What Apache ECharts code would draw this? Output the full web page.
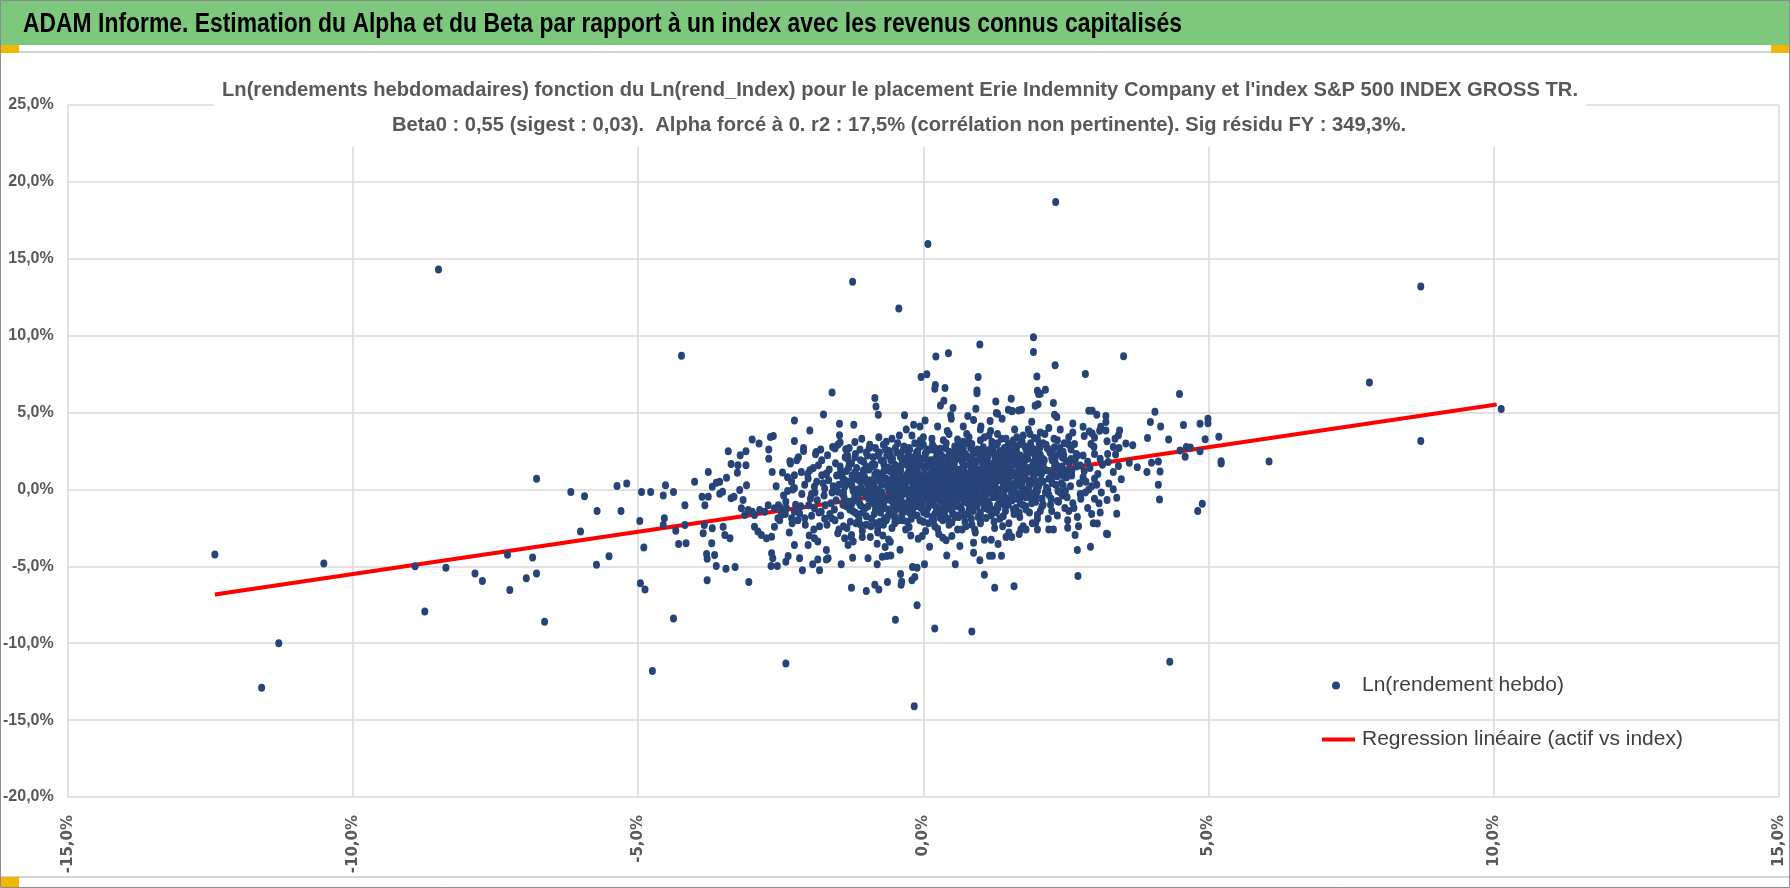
<!DOCTYPE html>
<html>
<head>
<meta charset="utf-8">
<title>ADAM Informe - Alpha et Beta</title>
<script src="https://cdn.jsdelivr.net/npm/echarts@6/dist/echarts.min.js"></script>
<style>
  html, body { margin: 0; padding: 0; background: #fff; }
  #chart { width: 1790px; height: 888px; }
</style>
</head>
<body>
<div id="chart"></div>
<script>
// Titres
const headerText = 'ADAM Informe. Estimation du Alpha et du Beta par rapport à un index avec les revenus connus capitalisés'
const chartTitle = [
  "Ln(rendements hebdomadaires) fonction du Ln(rend_Index) pour le placement Erie Indemnity Company et l'index S&P 500 INDEX GROSS TR.",
  'Beta0 : 0,55 (sigest : 0,03).  Alpha forcé à 0. r2 : 17,5% (corrélation non pertinente). Sig résidu FY : 349,3%.'
]
const scatterName = 'Ln(rendement hebdo)'
const lineName = 'Regression linéaire (actif vs index)'

// Axes (en %)
const xRange = [-15, 15]
const yRange = [-20, 25]
const tickStep = 5

// Droite de régression (extrémités)
const regressionLine = [[-12.42, -6.83], [10.05, 5.53]]

// Points isolés
const outlierPoints = [
  [-12.42, -4.23], [-11.6, -12.9], [-11.3, -10.0], [-10.51, -4.82], [-8.91, -4.99], [-8.74, -7.94],
  [-8.5, 14.3], [-8.37, -5.1], [-7.86, -5.46], [-7.73, -5.96], [-7.29, -4.25], [-7.25, -6.54],
  [-6.96, -5.77], [-6.85, -4.43], [-6.78, -5.46], [-6.78, 0.69], [-6.64, -8.61], [-6.18, -0.17],
  [-6.01, -2.74], [-5.94, -0.45], [-5.73, -4.9], [-5.72, -1.4], [-5.51, -4.34], [-5.37, 0.22],
  [-5.3, -1.4], [-4.75, -11.8], [-4.38, -8.39], [-4.24, 8.69], [-2.41, -11.32], [-1.24, 13.5],
  [-0.43, 11.77], [-0.16, -14.1], [0.08, 15.96], [0.99, 9.42], [2.32, 18.7], [4.32, -11.2],
  [6.06, 1.81], [7.82, 6.95], [8.72, 13.2], [8.72, 3.15], [10.13, 5.23], [-4.96, -6.1], [-4.88, -6.5]
]

// Aile gauche (-5,3% à -1,1%)
const leftWing = [
  [-5.2, 0.39], [-4.94, -0.17], [-4.78, -0.17], [-4.56, -0.39], [-4.52, 0.28], [-4.38, -0.17],
  [-4.97, -2.05], [-4.9, -3.78], [-4.54, -1.88], [-4.56, -2.31], [-4.34, -2.68], [-4.29, -3.54],
  [-4.16, -3.5], [-4.18, -1.02], [-4.18, -2.31], [-4.01, 0.5], [-3.88, -0.48], [-3.77, -0.48],
  [-3.83, -1.02], [-3.77, 1.14], [-3.84, -2.31], [-3.86, -2.85], [-3.7, -2.53], [-3.8, -4.19],
  [-3.66, -4.26], [-3.71, -3.5], [-3.7, 0.17], [-3.63, 0.43], [-3.57, 0.5], [-3.45, 0.76],
  [-3.42, 2.48], [-3.52, -0.15], [-3.57, -0.28], [-3.51, -2.42], [-3.48, -2.96], [-3.39, -3.18],
  [-3.37, 1.66], [-3.37, -0.58], [-3.32, -0.48], [-3.26, 1.08], [-3.25, 1.58], [-3.21, 2.22],
  [-3.11, 2.48], [-3.11, 1.58], [-3.1, 0.28], [-3.0, 3.24], [-2.88, 2.98], [-2.71, 2.59],
  [-2.71, 2.0], [-2.65, 1.14], [-2.63, 3.48], [-3.22, -0.04], [-3.16, -0.69], [-3.19, -1.23],
  [-3.13, -1.66], [-3.07, -1.34], [-3.0, -1.45], [-2.96, -1.66], [-2.87, -1.34], [-2.78, -1.45],
  [-2.72, -1.02], [-2.61, -1.23], [-2.54, -1.02], [-2.49, -1.66], [-2.4, -1.23], [-2.31, -1.88],
  [-2.26, -1.45], [-2.17, -1.56], [-2.08, -1.88], [-2.01, -1.02], [-1.96, -1.71], [-1.91, -1.23],
  [-1.79, -1.45], [-1.72, -1.02], [-1.61, -1.88], [-2.68, 3.41], [-2.26, 4.49], [-2.26, 3.15],
  [-2.1, 2.7], [-1.99, 3.84], [-1.88, 2.44], [-1.89, 2.29], [-1.68, 2.22], [-1.47, 4.28],
  [-1.22, 4.21], [-1.47, 3.52], [-1.46, 3.05], [-1.59, 2.76], [-1.55, 2.66], [-1.36, 2.61],
  [-1.33, 2.22], [-1.2, 3.09], [-1.99, 1.25], [-2.33, 1.68], [-2.34, 1.83], [-2.26, 0.93],
  [-2.31, 0.5], [-2.14, 1.14], [-2.02, 0.71], [-1.78, 0.93], [-1.7, 1.04], [-1.84, 1.58],
  [-1.91, 0.17], [-1.73, 0.06], [-1.5, -0.15], [-1.38, 0.17], [-1.41, 0.71], [-1.26, 0.28],
  [-2.96, -2.42], [-2.9, -2.74], [-2.84, -2.96], [-2.75, -3.18], [-2.66, -3.07], [-2.61, -2.42],
  [-2.55, -1.88], [-2.66, -4.15], [-2.37, -4.32], [-2.26, -3.61], [-2.17, -4.47], [-2.02, -3.61],
  [-1.91, -3.18], [-1.85, -3.39], [-1.7, -3.93], [-1.67, -4.47], [-1.5, -2.85], [-1.38, -3.18],
  [-1.32, -3.61], [-1.26, -2.96], [-1.23, -3.39], [-1.6, 6.3], [-1.75, 4.88],
  [-3.06, -6.02], [-3.79, -5.91], [-3.63, -4.98], [-3.46, -5.15], [-3.3, -5.04], [-3.79, -4.5],
  [-2.64, -4.48], [-2.67, -4.98], [-2.56, -4.98], [-2.41, -4.7], [-2.12, -5.26], [-1.94, -4.87],
  [-1.82, -5.26], [-1.85, -4.55], [-1.7, -4.55], [-1.44, -4.87], [-1.26, -6.39], [-1.24, -4.44],
  [-2.45, -0.4], [-2.38, 0.8], [-2.3, -2.2], [-2.22, 1.9], [-2.15, -1.1], [-2.08, 0.3],
  [-2.0, -3.0], [-1.93, 1.4], [-1.86, -0.7], [-1.8, 2.6], [-1.73, -1.9], [-1.66, 0.6],
  [-1.6, -0.2], [-1.54, 1.7], [-1.48, -2.6], [-1.44, 0.9], [-2.42, -1.6], [-2.26, 0.1],
  [-2.1, 2.5], [-1.96, -0.3], [-1.82, -2.4], [-1.7, 1.0], [-1.56, -1.3], [-1.5, 2.9]
]

// Bas du nuage (-1,1% à 3,3%)
const lowerCloud = [
  [-0.49, -8.48], [-0.11, -7.53], [0.2, -9.05], [0.85, -9.24], [2.71, -5.63], [2.7, -3.94],
  [2.93, -3.72], [3.21, -2.88], [3.05, -2.21], [2.66, -2.97], [2.53, -2.49], [2.2, -2.6],
  [1.71, -2.6], [1.97, -2.16], [1.45, -3.1], [1.55, -3.1], [1.25, -6.39], [1.59, -6.3],
  [1.07, -5.54], [1.37, -4.31], [1.21, -4.31], [1.16, -4.31], [0.99, -4.61], [1.31, -3.55],
  [1.19, -3.27], [1.07, -3.27], [0.88, -4.11], [0.88, -3.46], [0.56, -4.87], [0.41, -4.29],
  [0.64, -3.68], [0.5, -3.03], [0.34, -3.14], [0.02, -4.87], [0.11, -3.72], [-0.02, -3.03],
  [-0.19, -5.04], [-0.11, -5.09], [-0.15, -5.69], [-0.2, -5.91], [-0.38, -6.0], [-0.4, -5.5],
  [-0.39, -6.2], [-0.63, -6.02], [-0.78, -6.5], [-0.85, -6.2], [-1.0, -6.6], [-0.41, -3.92],
  [-0.64, -4.33], [-0.57, -4.29], [-0.72, -4.37], [-0.81, -4.87], [-0.97, -4.48], [-0.61, -3.25],
  [-0.67, -3.74], [-0.81, -3.53], [-0.93, -3.1], [-1.07, -3.1],
  [2.62, -0.9], [2.75, -0.3], [2.88, -1.2], [3.0, -0.6], [3.1, -1.5], [2.55, -1.4],
  [2.95, 0.2], [3.12, -0.2], [2.7, -1.8]
]

// Haut du nuage
const upperCloud = [
  [-0.85, 5.94], [-0.83, 5.4], [-0.79, 4.86], [-0.33, 4.82], [-0.04, 7.32], [0.06, 7.49],
  [0.22, 8.64], [0.44, 8.86], [0.21, 6.8], [0.2, 6.54], [0.38, 6.59], [0.94, 6.44],
  [0.94, 6.26], [0.96, 7.32], [1.93, 9.89], [1.93, 8.94], [2.31, 8.08], [1.99, 7.34],
  [2.0, 6.41], [2.02, 6.2], [2.14, 6.48], [0.3, 5.46], [0.36, 5.77], [0.52, 5.29],
  [0.48, 4.82], [0.92, 5.25], [1.27, 5.72], [1.3, 4.92], [1.54, 5.9], [1.56, 5.1],
  [1.67, 5.14], [1.72, 5.18], [1.96, 5.44], [2.28, 5.62], [2.3, 4.86], [2.34, 4.71],
  [-0.17, 4.21], [-0.06, 4.1], [0.03, 4.49], [0.25, 4.1], [0.49, 4.6], [0.78, 4.77],
  [0.88, 4.51], [1.01, 4.1], [1.17, 4.45], [1.28, 4.97], [1.38, 4.6], [1.49, 5.18],
  [1.55, 5.08], [2.01, 5.54], [2.05, 6.23],
  [2.84, 7.5], [2.8, 4.07], [2.82, 3.47], [2.91, 3.77], [2.96, 3.64], [3.0, 3.38],
  [2.94, 2.95], [2.99, 2.78], [3.0, 2.3], [2.62, 4.29], [2.62, 3.7], [2.65, 2.95],
  [2.68, 2.3], [2.59, 1.98], [2.51, 0.79], [2.44, 2.08], [3.04, 4.85], [2.96, 5.11],
  [2.9, 5.11], [3.11, 4.07], [3.09, 3.81]
]

// Aile droite (au-delà de 3,1%)
const rightWing = [
  [3.51, 8.66], [4.49, 6.2], [4.99, 4.6], [4.99, 4.3], [4.85, 4.28], [4.94, 3.26],
  [4.56, 4.19], [4.16, 4.1], [3.98, 4.38], [4.06, 5.05], [3.93, 3.35], [4.3, 3.24],
  [3.67, 2.87], [3.55, 2.98], [4.85, 2.48], [4.5, 2.53], [4.59, 2.12], [4.61, 2.76],
  [4.68, 2.72], [4.0, 1.73], [4.12, 1.81], [3.75, 1.45], [3.92, 1.14], [4.15, 1.17],
  [4.12, 0.3], [4.14, -0.65], [4.89, -0.93], [4.81, -1.4], [3.39, -1.58], [3.23, -2.92],
  [3.47, 0.67], [3.33, 1.14], [3.39, -0.54], [3.33, 0.02], [3.22, -0.69], [3.25, 0.39],
  [3.42, 1.53], [3.23, 2.31], [3.37, 2.27], [3.33, 2.76], [3.43, 2.7], [3.44, 3.84],
  [3.42, 3.52], [3.36, 3.3], [3.2, 3.84], [3.2, 4.77], [3.2, 4.38], [3.22, 3.13],
  [3.61, 1.73], [3.24, 1.79], [5.18, 3.43], [5.22, 1.68], [5.22, 1.84]
]

// Coeur du nuage (estimé, zone très dense)
const coreCloud = [
  [-1.42, -0.3], [-1.38, 0.6], [-1.35, -1.1], [-1.31, 1.4], [-1.28, -2.1], [-1.25, 0.2],
  [-1.22, -0.7], [-1.19, 2.3], [-1.16, -1.6], [-1.13, 0.9], [-1.1, -0.2], [-1.07, -2.7],
  [-1.05, 1.8], [-1.02, -1.2], [-0.99, 0.4], [-0.96, -0.6], [-0.94, 2.9], [-0.91, -1.9],
  [-1.4, -2.4], [-1.33, 2.0], [-1.27, -3.1], [-1.2, 1.1], [-1.12, -0.9], [-1.08, 3.3],
  [-1.0, -2.3], [-0.95, 1.3], [-1.36, -0.8], [-1.24, -1.4], [-1.15, 0.0], [-1.03, 0.8],
  [-0.89, 0.1], [-0.87, -0.9], [-0.85, 1.6], [-0.83, -2.2], [-0.81, 0.7], [-0.79, -0.4],
  [-0.77, 2.4], [-0.75, -1.5], [-0.73, 0.3], [-0.71, -3.0], [-0.69, 1.2], [-0.67, -0.7],
  [-0.65, 3.1], [-0.63, -1.8], [-0.61, 0.5], [-0.59, -0.1], [-0.57, 1.9], [-0.55, -2.5],
  [-0.53, 0.9], [-0.51, -1.1], [-0.49, 2.7], [-0.47, -0.3], [-0.45, 1.5], [-0.43, -2.0],
  [-0.41, 0.2], [-0.88, 2.1], [-0.84, -1.3], [-0.8, -2.8], [-0.76, 1.0], [-0.72, -0.2],
  [-0.68, -1.2], [-0.64, 2.2], [-0.6, -0.6], [-0.56, 0.0], [-0.52, -1.6], [-0.48, 1.1],
  [-0.44, -0.9], [-0.86, 0.4], [-0.78, 3.4], [-0.7, -2.3], [-0.62, 1.4], [-0.54, -0.4],
  [-0.46, 0.6], [-0.42, 3.5], [-0.58, -3.4],
  [-0.39, -0.5], [-0.37, 1.7], [-0.35, -1.4], [-0.33, 0.8], [-0.31, -2.6], [-0.29, 0.0],
  [-0.27, 2.3], [-0.25, -0.8], [-0.23, 1.2], [-0.21, -1.9], [-0.19, 0.4], [-0.17, -0.2],
  [-0.15, 3.0], [-0.13, -1.1], [-0.11, 0.9], [-0.09, -3.2], [-0.07, 1.6], [-0.05, -0.6],
  [-0.03, 0.2], [-0.01, 2.0], [0.01, -1.5], [0.03, 0.6], [0.05, -0.3], [0.07, 2.6],
  [0.09, -2.2], [-0.38, 0.3], [-0.34, 2.8], [-0.3, -1.0], [-0.26, 0.6], [-0.22, -3.0],
  [-0.18, 1.8], [-0.14, -0.4], [-0.1, 1.1], [-0.06, -2.0], [-0.02, -0.9], [0.02, 1.3],
  [0.06, 0.1], [0.08, -1.2], [-0.36, -2.0], [-0.28, 1.0], [-0.2, -0.6], [-0.12, 2.4],
  [-0.04, 0.7], [0.04, -2.7], [-0.32, -0.2], [-0.24, -1.5], [-0.16, 0.9], [-0.08, -0.1],
  [0.0, 3.4], [-0.4, 1.2], [0.1, 0.4],
  [0.11, -0.7], [0.13, 1.9], [0.15, -1.8], [0.17, 0.5], [0.19, -0.1], [0.21, 2.5],
  [0.23, -1.2], [0.25, 0.9], [0.27, -2.9], [0.29, 1.4], [0.31, -0.4], [0.33, 0.2],
  [0.35, 3.2], [0.37, -1.6], [0.39, 0.7], [0.41, -0.8], [0.43, 2.1], [0.45, -2.3],
  [0.47, 1.0], [0.49, 0.0], [0.51, 1.7], [0.53, -1.0], [0.55, 2.8], [0.57, -0.3],
  [0.59, 0.6], [0.12, 0.2], [0.16, 2.9], [0.2, -2.4], [0.24, -0.2], [0.28, 0.5],
  [0.32, -1.3], [0.36, 1.2], [0.4, -3.3], [0.44, 0.4], [0.48, -0.6], [0.52, 2.4],
  [0.56, -1.8], [0.14, 1.1], [0.22, -0.6], [0.3, 2.0], [0.38, -0.1], [0.46, 1.5],
  [0.54, 0.3], [0.18, -1.0], [0.26, 1.7], [0.34, -2.0], [0.42, 3.8], [0.5, -1.4],
  [0.58, 1.3], [0.6, -2.6],
  [0.61, 0.9], [0.63, -0.5], [0.65, 2.2], [0.67, -1.3], [0.69, 0.3], [0.71, 1.6],
  [0.73, -2.1], [0.75, 0.6], [0.77, -0.2], [0.79, 3.0], [0.81, -1.0], [0.83, 1.2],
  [0.85, -0.7], [0.87, 2.5], [0.89, 0.1], [0.91, -2.8], [0.93, 1.8], [0.95, -0.4],
  [0.97, 0.8], [0.99, -1.5], [1.01, 2.0], [1.03, 0.4], [1.05, -0.9], [1.07, 3.4],
  [1.09, 1.1], [0.62, -1.8], [0.66, 0.0], [0.7, 2.7], [0.74, 1.0], [0.78, -1.6],
  [0.82, 0.5], [0.86, -0.2], [0.9, 1.5], [0.94, -1.1], [0.98, 2.3], [1.02, -0.3],
  [1.06, 0.7], [0.64, 1.3], [0.72, -0.8], [0.8, 2.1], [0.88, -0.6], [0.96, 0.2],
  [1.04, 1.6], [0.68, -2.6], [0.76, 3.6], [0.84, -1.9], [0.92, 0.9], [1.0, -2.2],
  [1.08, -0.5],
  [1.11, 0.5], [1.13, -0.8], [1.15, 2.4], [1.17, 1.0], [1.19, -1.7], [1.21, 0.2],
  [1.23, 1.7], [1.25, -0.3], [1.27, 2.9], [1.29, 0.8], [1.31, -1.2], [1.33, 1.4],
  [1.35, 0.0], [1.37, 3.3], [1.39, -2.4], [1.41, 1.1], [1.43, -0.5], [1.45, 2.2],
  [1.47, 0.6], [1.49, -1.0], [1.51, 1.9], [1.53, -0.1], [1.55, 3.0], [1.57, 0.9],
  [1.59, -1.6], [1.12, 1.8], [1.16, -0.1], [1.2, 3.1], [1.24, -2.1], [1.28, 1.3],
  [1.32, -0.6], [1.36, 2.0], [1.4, 0.4], [1.44, -1.4], [1.48, 2.6], [1.52, 0.3],
  [1.56, -0.7], [1.14, -1.3], [1.22, 0.7], [1.3, 2.3], [1.38, -0.9], [1.46, 1.5],
  [1.54, 1.2], [1.18, 3.8], [1.26, 0.3], [1.34, -1.9], [1.42, 2.7], [1.5, -2.8],
  [1.58, 2.1],
  [1.61, 0.4], [1.63, 2.5], [1.65, -0.6], [1.67, 1.3], [1.69, -1.8], [1.71, 0.9],
  [1.73, 3.1], [1.75, 0.0], [1.77, 1.8], [1.79, -1.1], [1.81, 2.2], [1.83, 0.6],
  [1.85, -0.3], [1.87, 3.6], [1.89, 1.2], [1.91, -2.2], [1.93, 0.8], [1.95, 2.6],
  [1.97, -0.8], [1.99, 1.5], [2.01, 0.2], [2.03, 3.0], [2.05, -1.4], [2.07, 1.0],
  [2.09, 2.0], [1.62, -1.2], [1.66, 1.9], [1.7, 0.2], [1.74, -0.4], [1.78, 2.8],
  [1.82, 1.4], [1.86, -1.5], [1.9, 0.4], [1.94, 1.8], [1.98, 0.0], [2.02, 2.4],
  [2.06, 0.6], [1.64, 3.4], [1.72, 1.6], [1.8, -2.6], [1.88, 2.4], [1.96, -0.2],
  [2.04, 1.6], [1.68, -2.9], [1.76, 1.0], [1.84, 3.9], [2.0, -1.9], [2.08, -0.6],
  [2.11, 1.4], [2.14, -0.2], [2.17, 2.7], [2.2, 0.7], [2.23, -1.0], [2.26, 1.9],
  [2.29, 3.3], [2.32, 0.3], [2.35, -1.7], [2.38, 2.3], [2.41, 1.1], [2.44, -0.4],
  [2.47, 3.0], [2.5, 0.8], [2.53, -2.0], [2.56, 1.7], [2.59, 2.6], [2.13, 3.6],
  [2.19, -1.9], [2.25, 0.9], [2.31, 2.0], [2.37, -0.8], [2.43, 1.5], [2.49, -0.1],
  [2.55, 3.4], [2.16, 0.1], [2.28, -2.6], [2.4, 3.9], [2.52, 1.2], [2.22, 2.4],
  [2.34, 1.4], [2.46, 2.2], [2.58, 0.2],
  [2.66, 1.9], [2.74, 0.4], [2.82, 1.2], [2.9, 0.0], [2.98, -2.2], [3.06, 1.0],
  [3.14, 1.6], [2.72, -2.4], [2.8, 0.8], [2.88, 1.8], [3.04, 0.3], [2.84, -0.2],
  [-0.3, 3.9], [0.7, 4.1], [1.0, 3.9], [1.6, 3.9], [1.9, 4.4], [2.2, 4.0]
]

// Zone la plus dense (estimée)
const coreDense = [
  [-0.58, 0.6], [-0.52, 1.3], [-0.46, -0.8], [-0.4, 2.1], [-0.34, 0.1], [-0.28, -1.1],
  [-0.22, 1.5], [-0.16, 0.3], [-0.1, 2.2], [-0.04, -0.4], [0.02, 0.9], [0.08, 1.9],
  [0.14, -0.3], [0.2, 1.3], [0.26, 0.2], [0.32, 2.2], [0.38, -0.9], [0.44, 1.1],
  [0.5, 0.5], [0.56, 1.9], [0.62, -0.1], [0.68, 1.0], [0.74, 2.3], [0.8, 0.3],
  [0.86, 1.6], [0.92, -0.8], [0.98, 0.9], [1.04, 2.0], [1.1, 0.0], [1.16, 1.3],
  [1.22, 2.5], [1.28, -0.4], [1.34, 0.8], [1.4, 1.9], [1.46, 0.1], [1.52, 1.4],
  [1.58, 2.4], [1.64, 0.7], [1.7, -0.5], [1.76, 1.5],
  [-0.55, -0.2], [-0.43, 0.9], [-0.31, 1.9], [-0.19, -0.7], [-0.07, 0.5], [0.05, 1.5],
  [0.17, 0.8], [0.29, -0.6], [0.41, 0.3], [0.53, 1.2], [0.65, 2.0], [0.77, -0.6],
  [0.89, 0.6], [1.01, 1.3], [1.13, -0.2], [1.25, 1.0], [1.37, 1.6], [1.49, 0.5],
  [1.61, 1.8], [1.73, 0.3],
  [-0.49, 0.3], [-0.37, -0.3], [-0.25, 1.0], [-0.13, 1.7], [-0.01, 0.0], [0.11, 0.5],
  [0.23, 1.7], [0.35, 0.6], [0.47, 2.0], [0.59, 0.1], [0.71, 0.7], [0.83, 1.9],
  [0.95, 0.4], [1.07, 1.7], [1.19, 0.6], [1.31, 2.1], [1.43, 0.9], [1.55, -0.3],
  [1.67, 1.1], [1.79, 2.0]
]

// Compléments du coeur (estimés)
const coreExtra = [
  [-1.48, 0.3], [-1.45, -1.7], [-1.43, 1.0], [-1.39, -0.5], [-1.37, 2.1], [-1.34, -2.5],
  [-1.32, 0.5], [-1.29, -1.3], [-1.26, 1.7], [-1.23, -0.1], [-1.21, 0.7], [-1.18, -2.2],
  [-1.17, 1.4], [-1.14, -0.6], [-1.11, 2.6], [-1.09, 0.1], [-1.06, -1.5], [-1.04, 1.1],
  [-1.01, -0.4], [-0.98, 2.2], [-0.97, -1.1], [-0.93, 0.6], [-0.92, -2.4], [-0.9, 1.6],
  [-0.88, -0.3], [-0.86, -1.6], [-0.82, 1.1], [-0.8, 0.0], [-0.78, -1.0], [-0.74, 1.9],
  [-0.73, -0.6], [-0.7, 0.8], [-0.68, -1.9], [-0.66, 2.6], [-0.63, 0.2], [-0.61, -1.3],
  [-0.59, 1.2], [-0.57, -0.7], [-0.54, 2.0], [-0.52, 0.4], [-0.5, -1.9], [-1.46, 1.5],
  [-1.41, -1.0], [-1.3, 2.7], [-1.19, -0.4], [-1.13, -1.9], [-1.0, 1.5], [-0.95, -0.1],
  [-0.84, 2.7], [-0.76, -2.1], [-0.65, 0.7], [-0.53, -0.9], [-1.35, 1.2], [-1.25, -0.9],
  [-1.1, 0.5], [-0.92, 0.2], [-0.81, -0.6], [-0.69, 1.6], [-0.58, 2.3], [-0.5, -0.2],
  [-0.48, -1.3], [-0.46, 2.4], [-0.44, 0.1], [-0.42, -0.6], [-0.4, 1.4], [-0.38, -1.7],
  [-0.36, 0.7], [-0.35, 2.0], [-0.33, -0.9], [-0.31, 0.4], [-0.29, 1.6], [-0.28, -2.1],
  [-0.26, -0.4], [-0.24, 2.6], [-0.22, 0.0], [-0.21, 0.8], [-0.19, -1.4], [-0.17, 1.3],
  [-0.15, -0.8], [-0.14, 2.1], [-0.12, 0.3], [-0.11, -1.7], [-0.09, 1.0], [-0.07, -0.3],
  [-0.06, 1.9], [-0.04, -1.2], [-0.02, 0.5], [0.0, 1.5], [0.01, -0.6], [0.03, 2.3],
  [0.04, 0.0], [0.06, -1.6], [0.07, 0.9], [0.09, 1.6], [0.1, -0.9], [0.12, 2.6],
  [0.13, 0.3], [0.15, -0.5], [0.16, 1.5], [0.18, -2.0], [0.19, 0.8], [0.21, 2.0],
  [0.22, -0.2], [0.24, 1.1], [0.25, -1.5], [0.27, 0.5], [0.28, 2.4], [0.3, -0.8],
  [0.31, 1.2], [0.33, -0.1], [0.34, 1.8], [0.36, -1.1], [0.37, 0.4], [0.39, 2.7],
  [0.4, -0.4], [0.42, 1.0], [0.43, -1.9], [0.45, 0.6], [0.46, 2.2], [0.48, -0.2],
  [0.49, 1.3], [-0.45, 0.8], [-0.3, -1.4], [-0.18, 0.1], [-0.05, 2.8], [0.08, -0.4],
  [0.2, 0.3], [0.32, 1.5], [0.44, -1.2], [-0.25, 1.9],
  [0.5, 0.9], [0.52, -1.6], [0.54, 1.6], [0.55, 0.0], [0.57, 2.4], [0.58, -0.8],
  [0.6, 1.1], [0.62, 0.4], [0.63, 2.9], [0.65, -1.1], [0.66, 0.6], [0.68, 1.8],
  [0.69, -0.3], [0.71, 1.2], [0.72, -1.7], [0.74, 0.2], [0.75, 2.1], [0.77, 0.9],
  [0.78, -0.9], [0.8, 1.6], [0.81, 0.0], [0.83, 2.7], [0.84, -0.4], [0.86, 1.0],
  [0.87, -1.4], [0.89, 1.9], [0.9, 0.3], [0.92, 2.4], [0.93, -0.2], [0.95, 1.3],
  [0.96, -1.8], [0.98, 0.6], [0.99, 2.0], [1.01, -0.7], [1.02, 1.0], [1.04, 0.1],
  [1.05, 2.6], [1.07, -1.2], [1.08, 0.4], [1.1, 1.6], [1.11, -0.3], [1.13, 2.1],
  [1.14, 0.8], [1.16, -1.0], [1.17, 1.4], [1.19, 0.2], [1.2, 2.8], [1.22, -0.5],
  [1.23, 1.1], [1.25, 0.5], [1.26, 2.0], [1.28, -1.5], [1.29, 0.0], [1.31, 1.7],
  [1.32, 0.6], [1.34, 2.5], [1.35, -0.8], [1.37, 0.9], [1.38, 1.4], [1.4, -0.2],
  [1.41, 2.2], [1.43, 0.3], [1.44, -1.1], [1.46, 1.8], [1.47, 0.9], [1.49, 2.9],
  [0.7, 3.1], [1.0, 3.2], [1.3, 3.0], [0.85, -2.3],
  [1.5, 0.6], [1.52, -0.6], [1.54, 2.3], [1.56, 1.1], [1.58, -1.3], [1.6, 0.2],
  [1.62, 1.6], [1.64, 2.8], [1.66, -0.3], [1.68, 0.9], [1.7, 2.2], [1.72, 0.4],
  [1.74, -1.0], [1.76, 1.9], [1.78, 0.7], [1.8, 2.6], [1.82, -0.2], [1.84, 1.2],
  [1.86, 0.3], [1.88, 3.0], [1.9, -0.9], [1.92, 1.6], [1.94, 0.6], [1.96, 2.2],
  [1.98, -0.4], [2.0, 1.1], [2.02, 0.2], [2.04, 2.7], [2.06, 1.4], [2.08, -1.1],
  [2.1, 0.5], [2.12, 1.9], [2.15, 2.9], [2.18, 0.0], [2.21, 1.2], [2.24, -0.6],
  [2.27, 2.3], [2.3, 0.9], [2.33, 1.6], [2.36, -0.1], [2.39, 2.7], [2.42, 0.4],
  [2.45, 1.3], [2.48, -1.2], [1.58, 3.2], [1.83, 2.0], [2.0, 3.3], [2.26, 0.4],
  [2.45, 0.9], [1.68, -1.5],
  [-2.58, 0.2], [-2.52, -2.0], [-2.47, 1.1], [-2.41, -0.8], [-2.35, -2.8], [-2.29, 0.0],
  [-2.24, -1.0], [-2.19, 2.1], [-2.13, -0.3], [-2.07, -2.3], [-2.03, 1.0], [-1.98, -0.6],
  [-1.92, -2.6], [-1.87, 0.5], [-1.83, -1.5], [-1.78, 1.9], [-1.74, -0.4], [-1.69, -2.3],
  [-1.65, 1.3], [-1.62, -0.9], [-1.58, 0.2], [-1.55, -2.0], [-1.52, 0.9], [-2.5, -1.2],
  [-2.2, -2.0], [-1.9, -0.2], [-1.76, 0.4], [-1.64, -1.6], [-2.38, -0.1], [-1.53, -0.7],
  [2.52, -0.5], [2.6, 0.9], [2.68, 1.5], [2.76, -0.6], [2.85, 0.5], [2.92, 1.4],
  [3.0, 0.7], [3.08, -0.9], [2.64, -1.2], [2.8, 2.2], [2.95, -1.6], [3.1, 2.0]
]

// Remplissage du coeur, rangée par rangée (estimé)
const coreFill = [
  [-0.55, 3.3], [-0.2, 3.5], [0.15, 3.3], [0.45, 3.6], [0.8, 3.4], [1.15, 3.5], [1.45, 3.3],
  [1.75, 3.5], [2.05, 3.7], [2.35, 3.2], [-0.05, 3.2], [0.6, 3.25], [1.3, 3.6], [1.95, 3.35],
  [-0.95, 2.7], [-0.7, 2.9], [-0.45, 3.0], [-0.25, 2.7], [0.0, 2.9], [0.2, 2.7], [0.4, 3.0],
  [0.6, 2.7], [0.85, 2.95], [1.05, 2.75], [1.25, 2.95], [1.45, 2.7], [1.7, 2.95], [1.9, 2.7],
  [2.1, 3.0], [2.3, 2.75], [2.55, 2.9], [-0.35, 2.6], [0.3, 2.65], [0.95, 2.6], [1.6, 2.65],
  [2.2, 2.6],
  [-1.2, 2.1], [-1.0, 2.4], [-0.8, 2.2], [-0.6, 2.5], [-0.4, 2.3], [-0.2, 2.1], [0.05, 2.4],
  [0.25, 2.2], [0.45, 2.45], [0.65, 2.3], [0.85, 2.1], [1.05, 2.35], [1.25, 2.2], [1.45, 2.45],
  [1.65, 2.25], [1.85, 2.5], [2.05, 2.25], [2.25, 2.05], [2.45, 2.45], [2.7, 2.2], [-0.1, 2.5],
  [0.55, 2.05], [1.15, 2.55], [1.75, 2.05],
  [-1.3, 1.6], [-1.1, 1.9], [-0.9, 1.5], [-0.7, 1.8], [-0.5, 1.6], [-0.3, 1.85], [-0.1, 1.45],
  [0.1, 1.75], [0.3, 1.5], [0.5, 1.85], [0.7, 1.45], [0.9, 1.75], [1.1, 1.5], [1.3, 1.85],
  [1.5, 1.55], [1.7, 1.8], [1.9, 1.45], [2.1, 1.7], [2.3, 1.5], [2.5, 1.85], [2.75, 1.55],
  [-0.6, 1.4], [0.4, 1.6], [1.2, 1.4], [2.0, 1.9],
  [-1.45, 1.2], [-1.25, 0.9], [-1.05, 1.25], [-0.85, 0.95], [-0.65, 1.3], [-0.45, 1.0],
  [-0.25, 1.25], [-0.05, 0.85], [0.15, 1.2], [0.35, 0.9], [0.55, 1.3], [0.75, 1.0], [0.95, 1.2],
  [1.15, 0.85], [1.35, 1.25], [1.55, 0.95], [1.75, 1.3], [1.95, 1.0], [2.15, 1.25], [2.35, 0.85],
  [2.6, 1.15], [-0.35, 0.8], [0.65, 0.85], [1.45, 1.05],
  [-1.35, 0.4], [-1.15, 0.65], [-0.95, 0.3], [-0.75, 0.55], [-0.55, 0.2], [-0.35, 0.5],
  [-0.15, 0.65], [0.05, 0.3], [0.25, 0.6], [0.45, 0.15], [0.65, 0.45], [0.85, 0.7], [1.05, 0.25],
  [1.25, 0.6], [1.45, 0.3], [1.65, 0.55], [1.85, 0.15], [2.05, 0.45], [2.25, 0.7], [2.45, 0.25],
  [-0.45, 0.45], [0.35, 0.35], [1.15, 0.4], [1.95, 0.6],
  [-1.4, -0.2], [-1.2, -0.45], [-1.0, -0.1], [-0.8, -0.35], [-0.6, -0.05], [-0.4, -0.4],
  [-0.2, -0.15], [0.0, -0.45], [0.2, -0.05], [0.4, -0.3], [0.6, -0.5], [0.8, -0.1], [1.0, -0.4],
  [1.2, -0.05], [1.4, -0.3], [1.6, -0.15], [1.8, -0.5], [2.0, -0.1], [2.2, -0.35], [2.4, -0.2],
  [-0.7, -0.5], [0.5, -0.15], [1.3, -0.5], [1.9, -0.3],
  [-1.3, -0.8], [-1.1, -1.05], [-0.9, -0.7], [-0.7, -0.95], [-0.5, -0.65], [-0.3, -1.0],
  [-0.1, -0.75], [0.1, -1.05], [0.3, -0.7], [0.5, -0.95], [0.7, -0.65], [0.9, -1.0], [1.1, -0.75],
  [1.3, -1.05], [1.5, -0.7], [1.7, -0.9], [1.9, -0.65], [2.1, -1.0], [2.35, -0.75], [-0.2, -1.1],
  [0.6, -1.1], [1.4, -0.85],
  [-1.2, -1.5], [-1.0, -1.75], [-0.8, -1.3], [-0.6, -1.6], [-0.4, -1.25], [-0.2, -1.7],
  [0.0, -1.35], [0.2, -1.6], [0.4, -1.25], [0.6, -1.7], [0.8, -1.35], [1.0, -1.6], [1.2, -1.3],
  [1.4, -1.75], [1.6, -1.45], [1.8, -1.3], [2.0, -1.65], [2.25, -1.4], [-0.5, -1.8], [0.3, -1.85],
  [1.1, -1.85],
  [-1.1, -2.3], [-0.8, -2.55], [-0.5, -2.2], [-0.25, -2.45], [0.0, -2.1], [0.25, -2.55],
  [0.5, -2.15], [0.75, -2.4], [1.0, -2.05], [1.25, -2.5], [1.5, -2.2], [1.75, -2.4], [2.0, -2.6],
  [-0.65, -2.0], [0.9, -2.6]
]

const scatterPoints = [].concat(outlierPoints, leftWing, lowerCloud, upperCloud, rightWing,
  coreCloud, coreDense, coreExtra, coreFill)

const pctLabel = (v) => v.toFixed(1).replace('.', ',') + '%'

// largeur de texte pour reproduire une police condensée
const measureCtx = document.createElement('canvas').getContext('2d')
const textWidth = (txt, font) => {
  measureCtx.font = font
  return measureCtx.measureText(txt).width
}
const headerFont = 'bold 28px "Liberation Sans"'
const headerScale = 1159 / textWidth(headerText, headerFont)
const titleFont = 'bold 21px "Liberation Sans"'
const titleScale = 1356 / textWidth(chartTitle[0], titleFont)

const chart = echarts.init(document.getElementById('chart'), null, { renderer: 'canvas' })

const option = {
  backgroundColor: '#ffffff',
  animation: false,
  grid: {
    left: 66,
    right: 11,
    top: 105,
    bottom: 91
  },
  xAxis: {
    type: 'value',
    min: xRange[0],
    max: xRange[1],
    interval: tickStep,
    axisLine: { show: false },
    axisTick: { show: false },
    splitLine: { show: true, lineStyle: { color: '#d9d9d9', width: 1.5 } },
    axisLabel: {
      rotate: 90,
      margin: 18,
      formatter: pctLabel,
      fontFamily: 'DejaVu Sans',
      fontWeight: 'bold',
      fontSize: 15,
      color: '#595959'
    }
  },
  yAxis: {
    type: 'value',
    min: yRange[0],
    max: yRange[1],
    interval: tickStep,
    axisLine: { show: false },
    axisTick: { show: false },
    splitLine: { show: true, lineStyle: { color: '#d9d9d9', width: 1.5 } },
    axisLabel: {
      margin: 14,
      formatter: pctLabel,
      fontFamily: 'Liberation Sans',
      fontWeight: 'bold',
      fontSize: 16,
      color: '#595959'
    }
  },
  legend: [
    {
      left: 1332,
      top: 675,
      padding: 0,
      itemWidth: 8,
      itemHeight: 8,
      data: [{ name: scatterName, icon: 'circle' }],
      textStyle: {
        fontFamily: 'Liberation Sans',
        fontSize: 21,
        color: '#404040',
        padding: [0, 0, 0, 17]
      }
    },
    {
      left: 1322,
      top: 729,
      padding: 0,
      itemWidth: 33,
      itemHeight: 4,
      data: [{ name: lineName, icon: 'rect' }],
      textStyle: {
        fontFamily: 'Liberation Sans',
        fontSize: 21,
        color: '#404040',
        padding: [0, 0, 0, 2]
      }
    }
  ],
  series: [
    {
      name: lineName,
      type: 'line',
      data: regressionLine,
      symbol: 'none',
      z: 1,
      lineStyle: { color: '#ff0000', width: 4 },
      itemStyle: { color: '#ff0000' }
    },
    {
      name: scatterName,
      type: 'scatter',
      data: scatterPoints,
      symbol: 'circle',
      symbolSize: [7, 8],
      z: 2,
      itemStyle: { color: '#264478', opacity: 1 }
    }
  ],
  graphic: [
    // bandeau vert
    { type: 'rect', z: 10, shape: { x: 0, y: 0, width: 1790, height: 45 }, style: { fill: '#7ec87e' } },
    {
      type: 'text', z: 11, x: 23, y: 24, scaleX: headerScale,
      style: { text: headerText, font: headerFont, fill: '#000000', align: 'left', verticalAlign: 'middle' }
    },
    { type: 'line', z: 10, shape: { x1: 0, y1: 52, x2: 1790, y2: 52 }, style: { stroke: '#d4d4d4', lineWidth: 2 } },
    { type: 'rect', z: 11, shape: { x: 0, y: 45, width: 19, height: 8 }, style: { fill: '#f2b705' } },
    { type: 'rect', z: 11, shape: { x: 1771, y: 45, width: 19, height: 8 }, style: { fill: '#f2b705' } },
    // titre du graphique sur fond blanc
    { type: 'rect', z: 10, shape: { x: 214, y: 66, width: 1372, height: 81 }, style: { fill: '#ffffff' } },
    {
      type: 'text', z: 11, x: 900, y: 90, scaleX: titleScale,
      style: { text: chartTitle[0], font: titleFont, fill: '#595959', align: 'center', verticalAlign: 'middle' }
    },
    {
      type: 'text', z: 11, x: 899, y: 125, scaleX: titleScale,
      style: { text: chartTitle[1], font: titleFont, fill: '#595959', align: 'center', verticalAlign: 'middle' }
    },
    // bas de page
    { type: 'line', z: 10, shape: { x1: 0, y1: 877, x2: 1790, y2: 877 }, style: { stroke: '#d4d4d4', lineWidth: 2 } },
    { type: 'rect', z: 11, shape: { x: 0, y: 877, width: 19, height: 10 }, style: { fill: '#f2b705' } },
    // cadre
    { type: 'rect', z: 12, shape: { x: 0.5, y: 0.5, width: 1789, height: 887 }, style: { fill: 'none', stroke: '#8c8c8c', lineWidth: 1 } }
  ]
}

chart.setOption(option)
</script>
</body>
</html>
